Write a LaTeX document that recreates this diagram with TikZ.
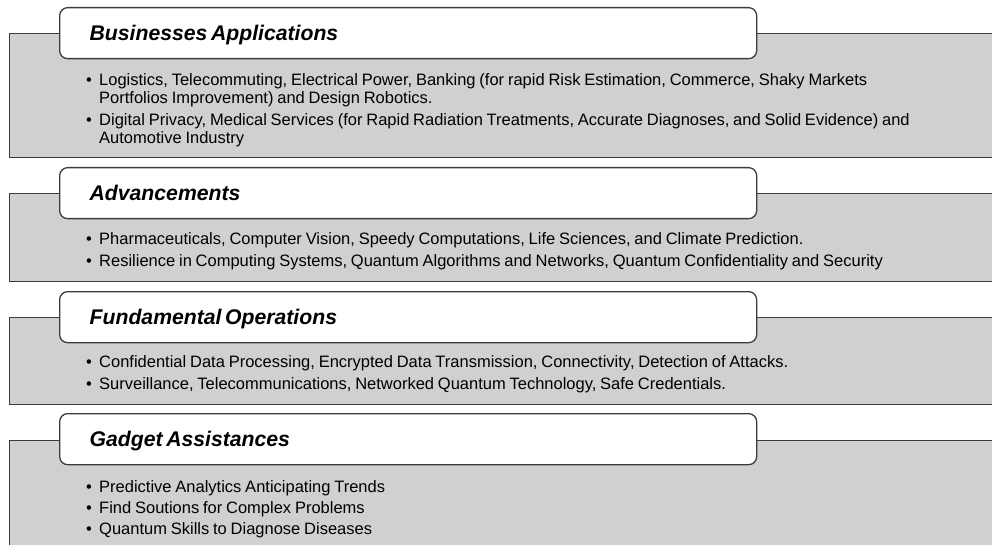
\documentclass[tikz,border=0pt]{standalone}
\usepackage{fontspec}
\setmainfont{Liberation Sans}
\usetikzlibrary{positioning}

\definecolor{panelgray}{RGB}{208,208,208}
\definecolor{edgegray}{RGB}{60,60,60}

% bullet with hanging text
\newcommand{\bpt}{\hbox to 13pt{\textbullet\hfil}}
\newcommand{\bind}{\hbox to 13pt{\hfil}}
\newcommand{\headfont}{\fontsize{21.2}{24}\selectfont\bfseries\itshape}
\newcommand{\pointfont}{\fontsize{16.5}{18}\selectfont\spaceskip=3.8pt plus 1pt\relax}

\begin{document}
\begin{tikzpicture}[
    x=1pt, y=1pt,
    panel/.style={draw=edgegray, line width=1.3pt, fill=panelgray, anchor=north west,
        minimum width=1010pt, inner sep=0pt},
    header/.style={draw=edgegray, line width=1.3pt, fill=white, rounded corners=8pt,
        anchor=north west, minimum width=697pt, minimum height=51pt, inner xsep=30pt,
        text width=637pt, text height=15pt, text depth=0pt, font=\headfont,
        execute at begin node={\spaceskip=3.6pt plus 1pt\relax}},
    points/.style={anchor=base west, inner sep=0pt, align=left, font=\pointfont}
]
    \useasboundingbox (0,0) rectangle (992,-545);

    % Businesses Applications
    \node[panel, minimum height=124pt] (busPanel) at (9,-33) {};
    \node[header] (busHead) at (59,-7) {Businesses Applications};
    \node[points] (busItems) at ([xshift=27pt, yshift=-84pt]busHead.south west) {%
        \bpt Logistics, Telecommuting, Electrical Power, Banking (for rapid Risk Estimation, Commerce, Shaky Markets\\
        \bind Portfolios Improvement) and Design Robotics.\\[4pt]
        \bpt Digital Privacy, Medical Services (for Rapid Radiation Treatments, Accurate Diagnoses, and Solid Evidence) and\\
        \bind Automotive Industry};

    % Advancements
    \node[panel, minimum height=88pt] (advPanel) at (9,-193) {};
    \node[header] (advHead) at (59,-167) {Advancements};
    \node[points] (advItems) at ([xshift=27pt, yshift=-47pt]advHead.south west) {%
        \bpt Pharmaceuticals, Computer Vision, Speedy Computations, Life Sciences, and Climate Prediction.\\[3.5pt]
        \bpt Resilience in Computing Systems, Quantum Algorithms and Networks, Quantum Confidentiality and Security};

    % Fundamental Operations
    \node[panel, minimum height=87pt] (fundPanel) at (9,-317) {};
    \node[header] (fundHead) at (59,-291) {Fundamental Operations};
    \node[points] (fundItems) at ([xshift=27pt, yshift=-46pt]fundHead.south west) {%
        \bpt Confidential Data Processing, Encrypted Data Transmission, Connectivity, Detection of Attacks.\\[3.5pt]
        \bpt Surveillance, Telecommunications, Networked Quantum Technology, Safe Credentials.};

    % Gadget Assistances
    \node[panel, minimum height=130pt] (gadPanel) at (9,-440) {};
    \node[header] (gadHead) at (59,-413) {Gadget Assistances};
    \node[points] (gadItems) at ([xshift=27pt, yshift=-69pt]gadHead.south west) {%
        \bpt Predictive Analytics Anticipating Trends\\[3pt]
        \bpt Find Soutions for Complex Problems\\[3pt]
        \bpt Quantum Skills to Diagnose Diseases};

\end{tikzpicture}
\end{document}
